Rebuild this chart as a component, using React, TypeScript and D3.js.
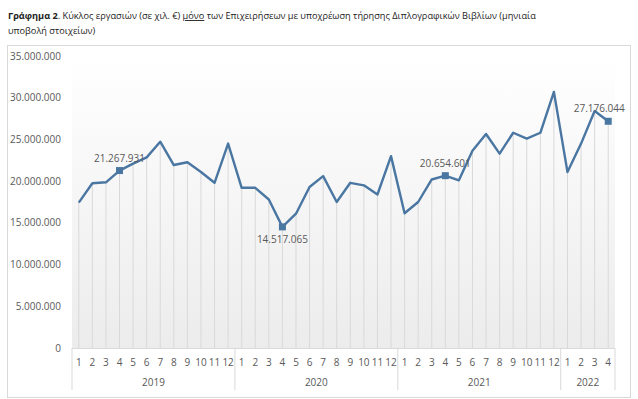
import * as d3 from "d3";

const months = [
  "1","2","3","4","5","6","7","8","9","10","11","12",
  "1","2","3","4","5","6","7","8","9","10","11","12",
  "1","2","3","4","5","6","7","8","9","10","11","12",
  "1","2","3","4",
];
const years = ["2019", "2020", "2021", "2022"];
const yearCounts = [12, 12, 12, 4];
const turnover = [
  17.42, 19.74, 19.86, 21.267931, 22.1, 22.85, 24.73, 21.93, 22.26, 21.1, 19.8, 24.5,
  19.2, 19.2, 17.8, 14.517065, 16.1, 19.3, 20.6, 17.5, 19.8, 19.5, 18.4, 23.0,
  16.15, 17.5, 20.2, 20.654601, 20.1, 23.65, 25.65, 23.3, 25.8, 25.1, 25.8, 30.7,
  21.1, 24.5, 28.4, 27.176044,
].map((v) => v * 1e6);
const yTicks = [0, 5e6, 10e6, 15e6, 20e6, 25e6, 30e6, 35e6];
const labelled = [3, 15, 27, 39];

const fmt = (v: number) => d3.format(",.0f")(v).replace(/,/g, ".");

export default function App() {
  const W = 638, H = 399;
  const left = 72, right = 615, top = 56, bottom = 348;

  const x = d3.scaleBand<number>().domain(d3.range(turnover.length)).range([left, right]);
  const y = d3.scaleLinear().domain([0, 35e6]).range([bottom, top]);
  const cx = (i: number) => (x(i) as number) + x.bandwidth() / 2;

  const line = d3.line<number>().x((_, i) => cx(i)).y((d) => y(d));

  const lineColor = "#4a76a2";
  const grey = "#d9d9d9";
  const txt = "#595959";

  // year group edges
  let acc = 0;
  const groups = years.map((yr, k) => {
    const start = acc;
    acc += yearCounts[k];
    return { yr, x0: x(start) as number, x1: (x(acc - 1) as number) + x.bandwidth() };
  });

  return (
    <svg width={W} height={H} style={{ position: "absolute", left: 0, top: 0, fontFamily: "'Open Sans', sans-serif" }}>
      <defs>
        <linearGradient id="bg" x1="0" y1="0" x2="0" y2="1">
          <stop offset="0%" stopColor="#ffffff" />
          <stop offset="100%" stopColor="#ececec" />
        </linearGradient>
      </defs>
      <rect x={0} y={0} width={W} height={H} fill="#fff" />
      <text x={8} y={19} fontSize={9.2} fill="#222">
        <tspan fontWeight="bold">Γράφημα 2</tspan>
        <tspan>. Κύκλος εργασιών (σε χιλ. €) </tspan>
        <tspan textDecoration="underline">μόνο</tspan>
        <tspan> των Επιχειρήσεων με υποχρέωση τήρησης Διπλογραφικών Βιβλίων (μηνιαία</tspan>
      </text>
      <text x={8} y={34} fontSize={9.2} fill="#222">υποβολή στοιχείων)</text>

      <rect x={7.5} y={45.5} width={623} height={352} fill="none" stroke={grey} />

      <rect x={left} y={top} width={right - left} height={bottom - top} fill="url(#bg)" />

      {yTicks.map((t) => (
        <text key={t} x={61} y={y(t) + 3.5} fontSize={10} fill={txt} textAnchor="end">
          {fmt(t)}
        </text>
      ))}

      {turnover.map((v, i) => (
        <line key={i} x1={cx(i)} x2={cx(i)} y1={y(v)} y2={bottom} stroke={grey} strokeWidth={1} />
      ))}

      <line x1={left} x2={right} y1={bottom + 0.5} y2={bottom + 0.5} stroke={grey} />
      {groups.map((g) => (
        <g key={g.yr}>
          <line x1={g.x0} x2={g.x0} y1={bottom} y2={390} stroke={grey} />
          <text x={(g.x0 + g.x1) / 2} y={386} fontSize={10} fill={txt} textAnchor="middle">
            {g.yr}
          </text>
        </g>
      ))}
      <line x1={right} x2={right} y1={bottom} y2={390} stroke={grey} />
      {months.map((m, i) => (
        <text key={i} x={cx(i)} y={366} fontSize={10} fill={txt} textAnchor="middle">
          {m}
        </text>
      ))}

      <path d={line(turnover) ?? ""} fill="none" stroke={lineColor} strokeWidth={2.4} strokeLinejoin="round" />

      {labelled.map((i) => {
        const v = turnover[i];
        const below = i === 15;
        const lx = i === 39 ? cx(i) - 9 : cx(i);
        return (
          <g key={i}>
            <rect x={cx(i) - 3.5} y={y(v) - 3.5} width={7} height={7} fill={lineColor} />
            <text x={lx} y={below ? y(v) + 16 : y(v) - 9} fontSize={10} fill={txt} textAnchor="middle">
              {fmt(Math.round(v))}
            </text>
          </g>
        );
      })}
    </svg>
  );
}
